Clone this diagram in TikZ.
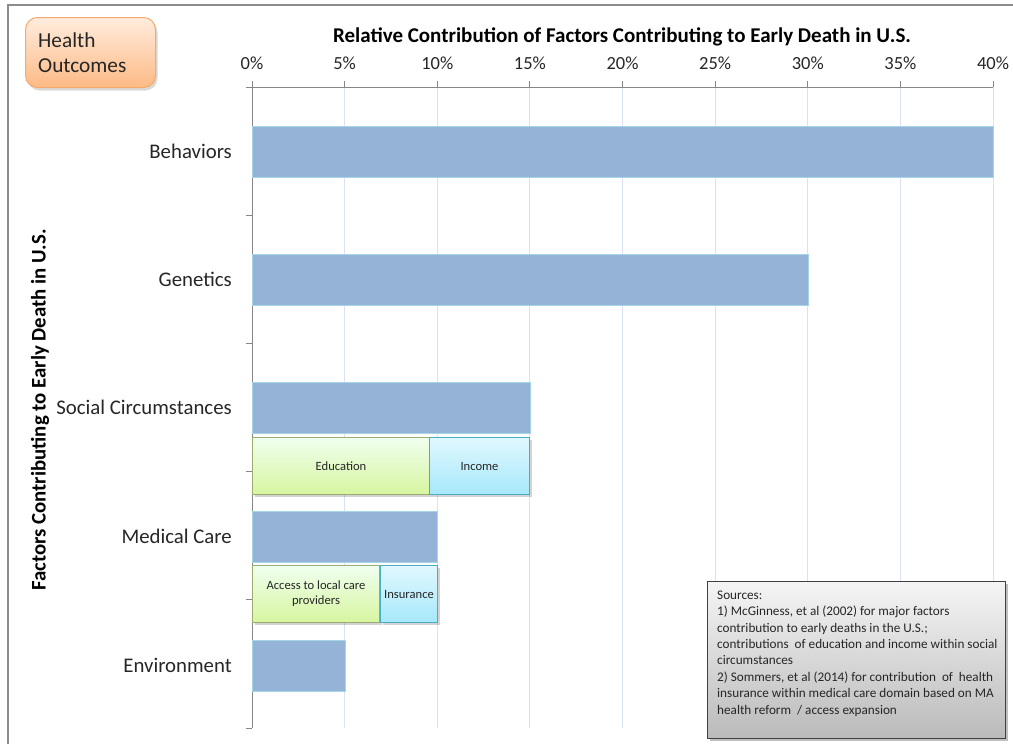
\documentclass[tikz,border=0pt]{standalone}
\usepackage{fontspec}
\setmainfont{Carlito}
\usetikzlibrary{shadows}
\definecolor{barfill}{HTML}{95B3D7}
\definecolor{barline}{HTML}{A5D6E6}
\definecolor{gridc}{HTML}{D9E2F0}
\definecolor{axisc}{HTML}{868686}
\definecolor{frame}{HTML}{8C8C8C}
\begin{document}
\begin{tikzpicture}[x=1pt,y=-1pt,
  bar/.style={draw=barline, line width=0.8pt, fill=barfill, rectangle, inner sep=0pt, anchor=north west, minimum height=51pt},
  catlabel/.style={anchor=east, font=\fontsize{20.8}{24}\selectfont, inner sep=0pt, text=black!85},
  ticklabel/.style={font=\fontsize{18.5}{21}\selectfont, inner sep=0pt, text=black!85},
  subgreen/.style={rectangle, draw=olive!60!green!70!black!60, line width=1pt, top color=green!6!white, bottom color={rgb,255:red,215;green,245;blue,160}, drop shadow={shadow xshift=2pt, shadow yshift=-2pt, opacity=0.35}, anchor=north west, inner sep=0pt, align=center, font=\fontsize{12.6}{15}\selectfont, text=black!85},
  subblue/.style={rectangle, draw={rgb,255:red,75;green,172;blue,198}, line width=1pt, top color={rgb,255:red,225;green,248;blue,255}, bottom color={rgb,255:red,166;green,232;blue,250}, drop shadow={shadow xshift=2pt, shadow yshift=-2pt, opacity=0.35}, anchor=north west, inner sep=0pt, align=center, font=\fontsize{12.6}{15}\selectfont, text=black!85},
]
\useasboundingbox (0,0) rectangle (1013,744);
% outer frame
\draw[frame, line width=1.2pt] (8,744) -- (8,5) -- (1013,5);
% grid lines
\foreach \i in {1,...,8} {
  \draw[gridc, line width=0.8pt] ({252+\i*92.625},87) -- ({252+\i*92.625},728);
}
% axes
\draw[axisc, line width=1pt] (252,87) -- (993,87);
\draw[axisc, line width=1pt] (252,82) -- (252,728);
\foreach \i in {0,...,8} {
  \draw[axisc, line width=1pt] ({252+\i*92.625},87) -- ({252+\i*92.625},81);
}
\foreach \y in {87,215.2,343.4,471.6,599.8,728} {
  \draw[axisc, line width=1pt] (246,\y) -- (252,\y);
}
% tick labels
\foreach \i/\t in {0/0\%,1/5\%,2/10\%,3/15\%,4/20\%,5/25\%,6/30\%,7/35\%,8/40\%} {
  \node[ticklabel] (tk\i) at ({252+\i*92.625},63) {\t};
}
% title
\node[font=\bfseries\fontsize{21}{24}\selectfont, inner sep=0pt] (title) at (622,37) {Relative Contribution of Factors Contributing to Early Death in U.S.};
% y axis title
\node[font=\bfseries\fontsize{20.8}{24}\selectfont, inner sep=0pt, rotate=90] (ytitle) at (40,410) {Factors Contributing to Early Death in U.S.};
% bars
\node[bar, minimum width=741pt] (bBeh) at (252,126) {};
\node[bar, minimum width=555.75pt] (bGen) at (252,254) {};
\node[bar, minimum width=277.875pt] (bSoc) at (252,382) {};
\node[bar, minimum width=185.25pt] (bMed) at (252,511) {};
\node[bar, minimum width=92.625pt] (bEnv) at (252,639.5) {};
% category labels
\node[catlabel] (lBeh) at (232,151) {Behaviors};
\node[catlabel] (lGen) at (232,279) {Genetics};
\node[catlabel] (lSoc) at (232,407) {Social Circumstances};
\node[catlabel] (lMed) at (232,536) {Medical Care};
\node[catlabel] (lEnv) at (232,665) {Environment};
% sub boxes
\node[subgreen, minimum width=177pt, minimum height=57pt] (edu) at (252,437) {Education};
\node[subblue, minimum width=100pt, minimum height=57pt] (inc) at (429,437) {Income};
\node[subgreen, minimum width=127pt, minimum height=57pt] (acc) at (252,565) {Access to local care\\providers};
\node[subblue, minimum width=57pt, minimum height=57pt] (ins) at (380,565) {Insurance};
% Health outcomes box
\node[rectangle, rounded corners=12pt, draw={rgb,255:red,246;green,170;blue,110}, line width=1pt,
  top color={rgb,255:red,255;green,236;blue,222}, bottom color={rgb,255:red,253;green,186;blue,133},
  drop shadow={shadow xshift=2pt, shadow yshift=-3pt, opacity=0.3},
  minimum width=130pt, minimum height=70pt, anchor=north west] (ho) at (25,17) {};
\node[anchor=base west, inner sep=0pt, font=\fontsize{21.3}{25}\selectfont, text=black!85] (hot1) at (38,47.5) {Health};
\node[anchor=base west, inner sep=0pt, font=\fontsize{21.3}{25}\selectfont, text=black!85] (hot2) at (38,72.5) {Outcomes};
% sources box
\node[rectangle, draw=black!75, line width=1pt, top color=black!4, bottom color=black!27,
  drop shadow={shadow xshift=2pt, shadow yshift=-2pt, opacity=0.5},
  minimum width=298pt, minimum height=157pt, anchor=north west] (src) at (707,581) {};
\node[anchor=north west, align=left, inner sep=0pt, font=\fontsize{13.2}{16.4}\selectfont, text=black!85] (srct) at (717,590.5) {Sources:\\
1) McGinness, et al (2002) for major factors\\
contribution to early deaths in the U.S.;\\
contributions\ \ of education and income within social\\
circumstances\\
2) Sommers, et al (2014) for contribution\ \ of\ \ health\\
insurance within medical care domain based on MA\\
health reform\ \ / access expansion};
\end{tikzpicture}
\end{document}
